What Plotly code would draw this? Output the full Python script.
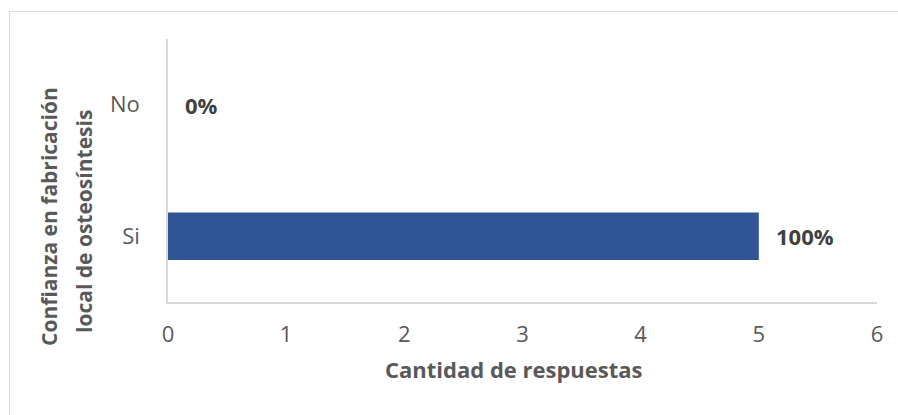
import plotly.graph_objects as go

categories = ["Si", "No"]
counts = [5, 0]
pct_labels = ["100%", "0%"]
x_ticks = [0, 1, 2, 3, 4, 5, 6]

W, H = 898, 415
L, R, T, B = 168, 21, 39, 113
pw, ph = W - L - R, H - T - B

def px(x):
    return (x - L) / pw

def py(y):
    return (H - B - y) / ph

fig = go.Figure(go.Bar(
    x=counts, y=categories, orientation="h",
    marker=dict(color="#2F5597", line=dict(width=0)),
    width=0.36, hoverinfo="skip",
))

annotations = []
for c, v, lab in zip(categories, counts, pct_labels):
    annotations.append(dict(
        x=v, y=c, xref="x", yref="y", text=f"<b>{lab}</b>", showarrow=False,
        xanchor="left", yanchor="middle", xshift=15,
        font=dict(family="Open Sans", size=22, color="#404040"),
    ))

annotations += [
    dict(x=px(49), y=py(217), xref="paper", yref="paper", text="<b>Confianza en fabricación</b>",
         textangle=-90, showarrow=False, xanchor="center", yanchor="middle",
         font=dict(family="Open Sans", size=21, color="#595959")),
    dict(x=px(84), y=py(222), xref="paper", yref="paper", text="<b>local de osteosíntesis</b>",
         textangle=-90, showarrow=False, xanchor="center", yanchor="middle",
         font=dict(family="Open Sans", size=21, color="#595959")),
    dict(x=px(514), y=py(369), xref="paper", yref="paper", text="<b>Cantidad de respuestas</b>",
         showarrow=False, xanchor="center", yanchor="middle",
         font=dict(family="Open Sans", size=22, color="#595959")),
]

fig.update_layout(
    width=W, height=H,
    margin=dict(l=L, r=R, t=T, b=B, pad=0),
    paper_bgcolor="white", plot_bgcolor="white",
    showlegend=False,
    bargap=0.64,
    annotations=annotations,
    shapes=[dict(type="rect", xref="paper", yref="paper",
                 x0=px(9.5), x1=px(W + 20), y0=py(H + 20), y1=py(11.5),
                 line=dict(color="#D9D9D9", width=1), fillcolor="rgba(0,0,0,0)", layer="below")],
    xaxis=dict(range=[0, 6], tickvals=x_ticks, showgrid=False, zeroline=False,
               showline=True, linecolor="#D9D9D9", linewidth=1.5,
               ticks="", ticklabelstandoff=12,
               tickfont=dict(family="Open Sans", size=22, color="#595959"),
               fixedrange=True),
    yaxis=dict(categoryorder="array", categoryarray=categories, showgrid=False, zeroline=False,
               showline=True, linecolor="#D9D9D9", linewidth=1.5,
               ticks="", ticklabelstandoff=22,
               tickfont=dict(family="Open Sans", size=22, color="#595959"),
               fixedrange=True),
)

fig.write_html("out.html", config={"displayModeBar": False},
               post_script="document.body.style.margin='0';document.body.style.padding='0';")
